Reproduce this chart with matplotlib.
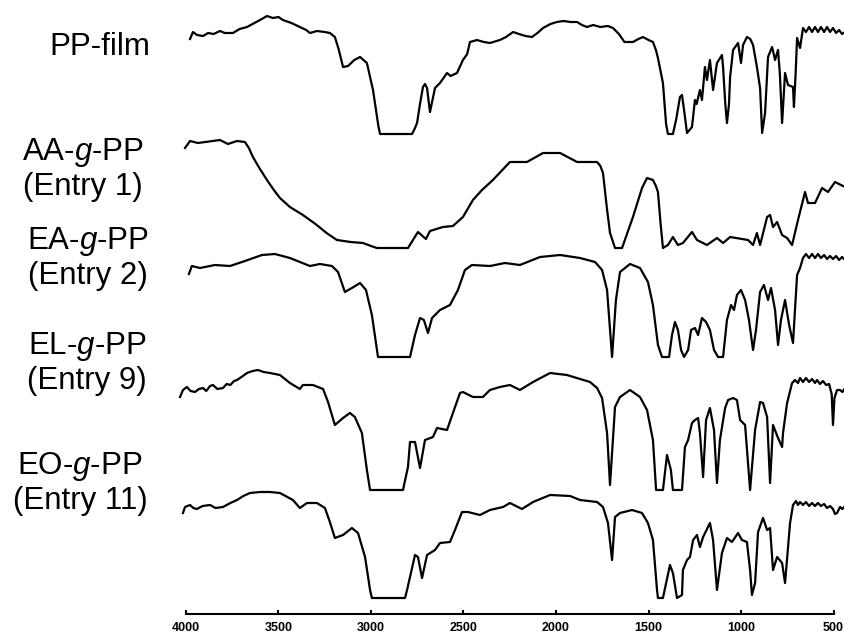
import matplotlib.pyplot as plt
import numpy as np

plt.rcParams['font.family'] = 'Liberation Sans'
plt.rcParams['mathtext.fontset'] = 'custom'
plt.rcParams['mathtext.rm'] = 'Liberation Sans'
plt.rcParams['mathtext.it'] = 'Liberation Sans:italic'

# FT-IR spectra: (wavenumber / cm-1, relative transmittance / a.u.)
pp_film = [
    (3978, 95), (3962, 102), (3940, 99), (3908, 98), (3880, 101), (3850, 100), (3816, 103),
    (3790, 101), (3746, 101), (3710, 105), (3670, 107), (3620, 112), (3590, 115), (3562, 118),
    (3530, 116), (3500, 117), (3476, 114), (3430, 111), (3384, 107), (3350, 104), (3330, 101),
    (3292, 103), (3250, 102), (3222, 101), (3195, 97), (3175, 85), (3151, 67), (3124, 68),
    (3090, 74), (3059, 77), (3022, 71), (2989, 44), (2960, 8), (2951, 0), (2778, 0), (2762, 6),
    (2751, 11), (2735, 30), (2719, 47), (2708, 50), (2697, 46), (2681, 22), (2665, 36),
    (2654, 46), (2627, 51), (2589, 61), (2570, 58), (2535, 61), (2503, 74), (2480, 80),
    (2465, 92), (2427, 94), (2390, 92), (2357, 91), (2303, 94), (2270, 97), (2232, 102),
    (2200, 100), (2165, 98), (2130, 97), (2100, 101), (2070, 106), (2030, 110), (1995, 112),
    (1960, 113), (1920, 112), (1886, 112), (1860, 109), (1832, 107), (1800, 109), (1760, 107),
    (1720, 108), (1692, 106), (1660, 100), (1630, 92), (1616, 92), (1584, 92), (1555, 95),
    (1530, 97), (1500, 94), (1476, 92), (1460, 84), (1449, 76), (1422, 51), (1405, 10),
    (1395, 0), (1368, 0), (1350, 15), (1330, 37), (1319, 39), (1305, 20), (1292, 1), (1265, 7),
    (1249, 34), (1240, 30), (1222, 44), (1211, 34), (1195, 67), (1184, 54), (1168, 74),
    (1151, 44), (1130, 71), (1103, 79), (1097, 67), (1085, 30), (1076, 11), (1065, 30),
    (1059, 57), (1043, 84), (1016, 91), (1000, 71), (989, 89), (968, 97), (950, 95), (935, 89),
    (914, 67), (897, 46), (886, 1), (870, 21), (854, 77), (832, 87), (816, 74), (800, 84),
    (790, 60), (778, 11), (762, 61), (746, 49), (719, 47), (714, 27), (705, 60), (697, 96),
    (681, 86), (665, 106), (649, 102), (632, 107), (616, 102), (600, 107), (584, 102),
    (568, 107), (551, 102), (535, 107), (519, 102), (503, 106), (486, 101), (470, 104),
    (454, 100), (438, 102),
]

aa_pp = [
    (4005, 100), (3978, 107), (3935, 105), (3816, 108), (3773, 104), (3724, 107), (3681, 106),
    (3660, 100), (3638, 91), (3600, 79), (3562, 68), (3525, 58), (3492, 50), (3438, 41),
    (3368, 33), (3300, 24), (3240, 15), (3184, 8), (3110, 6), (3043, 5), (3000, 2), (2968, 0),
    (2800, 0), (2746, 16), (2703, 9), (2681, 17), (2611, 21), (2557, 22), (2503, 31),
    (2449, 48), (2400, 58), (2341, 68), (2290, 78), (2249, 86), (2157, 86), (2070, 95),
    (1978, 95), (1886, 86), (1778, 86), (1760, 82), (1746, 75), (1725, 40), (1708, 15),
    (1681, 0), (1643, 0), (1584, 31), (1535, 60), (1508, 70), (1476, 68), (1460, 62),
    (1449, 56), (1435, 25), (1422, 0), (1395, 3), (1368, 11), (1341, 3), (1314, 5), (1265, 16),
    (1238, 8), (1184, 3), (1130, 10), (1097, 5), (1059, 11), (962, 8), (935, 3), (914, 15),
    (897, 3), (859, 31), (843, 33), (827, 21), (805, 26), (778, 13), (751, 10), (724, 3),
    (692, 28), (654, 56), (638, 45), (600, 45), (562, 60), (530, 56), (492, 66), (438, 61),
]

ea_pp = [
    (3984, 83), (3968, 91), (3924, 89), (3843, 92), (3762, 91), (3681, 96), (3589, 102),
    (3519, 103), (3438, 99), (3384, 95), (3330, 91), (3276, 93), (3211, 91), (3178, 85),
    (3141, 65), (3103, 69), (3059, 74), (3027, 67), (2995, 42), (2962, 0), (2789, 0),
    (2762, 22), (2735, 39), (2714, 37), (2692, 24), (2670, 39), (2627, 47), (2573, 52),
    (2530, 67), (2492, 87), (2454, 92), (2357, 91), (2276, 94), (2195, 92), (2086, 100),
    (1978, 102), (1870, 99), (1789, 95), (1751, 87), (1724, 67), (1697, 0), (1676, 57),
    (1654, 85), (1600, 93), (1546, 89), (1503, 75), (1476, 52), (1449, 12), (1427, 0),
    (1389, 0), (1373, 22), (1357, 35), (1341, 27), (1324, 7), (1308, 0), (1286, 7),
    (1270, 27), (1249, 29), (1232, 22), (1211, 39), (1189, 35), (1168, 27), (1146, 7),
    (1124, 0), (1097, 0), (1076, 37), (1054, 52), (1038, 47), (1022, 62), (1000, 67),
    (978, 57), (957, 37), (935, 7), (919, 27), (897, 65), (876, 72), (854, 57), (838, 69),
    (816, 47), (800, 12), (784, 37), (762, 57), (740, 32), (719, 14), (697, 82), (681, 89),
    (665, 99), (649, 103), (632, 99), (616, 103), (600, 99), (584, 103), (568, 99),
    (551, 102), (535, 98), (519, 101), (503, 98), (486, 101), (470, 97), (454, 100), (438, 97),
]

el_pp = [
    (4032, 93), (4016, 100), (3995, 103), (3975, 99), (3951, 98), (3930, 101), (3908, 102),
    (3890, 99), (3870, 104), (3854, 105), (3830, 101), (3800, 102), (3780, 106), (3760, 105),
    (3740, 109), (3724, 110), (3700, 113), (3670, 117), (3640, 119), (3611, 120), (3580, 118),
    (3546, 117), (3492, 115), (3438, 107), (3384, 101), (3368, 105), (3314, 105), (3259, 101),
    (3232, 88), (3195, 65), (3151, 72), (3114, 77), (3087, 73), (3049, 57), (3022, 20),
    (3005, 0), (2827, 0), (2800, 23), (2789, 48), (2762, 48), (2735, 22), (2708, 50),
    (2665, 53), (2643, 62), (2589, 60), (2557, 77), (2519, 97), (2503, 98), (2449, 93),
    (2395, 93), (2357, 100), (2303, 103), (2249, 105), (2195, 100), (2124, 108), (2032, 117),
    (1941, 115), (1816, 108), (1778, 102), (1751, 92), (1724, 57), (1708, 5), (1681, 83),
    (1654, 93), (1600, 100), (1546, 93), (1508, 80), (1476, 50), (1459, 0), (1422, 0),
    (1400, 35), (1379, 20), (1368, 0), (1319, 0), (1303, 43), (1286, 50), (1265, 67),
    (1249, 70), (1232, 72), (1222, 57), (1205, 13), (1189, 70), (1168, 82), (1146, 60),
    (1130, 7), (1114, 50), (1086, 82), (1070, 90), (1043, 92), (1022, 90), (1005, 70),
    (978, 65), (951, 0), (924, 60), (897, 88), (881, 87), (859, 73), (843, 7), (827, 65),
    (800, 52), (778, 43), (773, 57), (751, 87), (724, 107), (708, 110), (692, 107),
    (681, 112), (665, 108), (649, 112), (632, 108), (616, 111), (600, 107), (589, 110),
    (573, 106), (557, 109), (540, 105), (524, 106), (510, 96), (503, 65), (495, 92),
    (481, 100), (465, 100), (452, 98), (438, 102),
]

eo_pp = [
    (4016, 85), (4005, 91), (3978, 93), (3960, 90), (3941, 89), (3910, 92), (3870, 93),
    (3840, 90), (3800, 91), (3760, 95), (3724, 98), (3690, 102), (3654, 105), (3600, 106),
    (3546, 106), (3492, 105), (3422, 98), (3384, 90), (3346, 95), (3292, 95), (3249, 90),
    (3222, 76), (3195, 60), (3151, 63), (3103, 70), (3070, 65), (3032, 41), (3005, 8),
    (2995, 0), (2816, 0), (2805, 8), (2762, 43), (2746, 41), (2724, 20), (2697, 43),
    (2654, 48), (2627, 55), (2573, 56), (2546, 68), (2508, 86), (2476, 86), (2411, 83),
    (2357, 88), (2286, 91), (2249, 95), (2184, 89), (2124, 96), (2032, 103), (1924, 102),
    (1870, 98), (1778, 96), (1746, 91), (1719, 75), (1697, 38), (1681, 81), (1654, 85),
    (1589, 88), (1535, 85), (1503, 75), (1476, 58), (1454, 8), (1449, 0), (1422, 0),
    (1384, 33), (1368, 25), (1346, 0), (1319, 3), (1314, 28), (1292, 38), (1276, 41),
    (1259, 58), (1238, 63), (1222, 51), (1205, 61), (1168, 75), (1151, 58), (1130, 8),
    (1103, 45), (1076, 60), (1049, 56), (1016, 65), (995, 58), (968, 56), (951, 28), (941, 3),
    (924, 15), (908, 66), (881, 80), (859, 68), (843, 70), (827, 28), (805, 41), (778, 35),
    (762, 15), (735, 75), (719, 93), (703, 97), (692, 93), (681, 96), (665, 93), (649, 96),
    (632, 92), (616, 95), (600, 92), (584, 95), (568, 92), (551, 94), (535, 90), (519, 92),
    (503, 89), (492, 84), (481, 85), (465, 91), (452, 89), (438, 92),
]

sample_names = [
    "PP-film",
    "AA-$\\mathit{g}$-PP\n(Entry 1)",
    "EA-$\\mathit{g}$-PP\n(Entry 2)",
    "EL-$\\mathit{g}$-PP\n(Entry 9)",
    "EO-$\\mathit{g}$-PP\n(Entry 11)",
]
spectra = [pp_film, aa_pp, ea_pp, el_pp, eo_pp]
offsets = [480, 366, 257, 124, 16]
wn_ticks = [4000, 3500, 3000, 2500, 2000, 1500, 1000, 500]

W, H = 845, 637
fig = plt.figure(figsize=(W / 100, H / 100), dpi=100)
ax = fig.add_axes([0, 23 / H, 1, 614 / H])
ax.patch.set_visible(False)

for spec, off in zip(spectra, offsets):
    wn, t = np.array(spec, dtype=float).T
    ax.plot(wn, t + off, color='black', lw=1.6, solid_joinstyle='round')

ax.set_xlim(5005, 438)
ax.set_ylim(0, 614)
for side in ['top', 'left', 'right']:
    ax.spines[side].set_visible(False)
ax.spines['bottom'].set_bounds(500, 4000)
ax.spines['bottom'].set_linewidth(1.5)
ax.set_yticks([])
ax.set_xticks(wn_ticks)
ax.tick_params(axis='x', direction='in', length=3, width=1.5, pad=6, labelsize=9)
for lab in ax.get_xticklabels():
    lab.set_fontweight('bold')
    lab.set_family(['Liberation Sans Narrow', 'Liberation Sans'])

# sample labels, positions in figure pixels from the top-left corner
label_pos = [(100, 47), (83, 169), (88, 258), (87, 363), (80, 483)]
for name, (px, py) in zip(sample_names, label_pos):
    fig.text(px / W, 1 - py / H, name, ha='center', va='center',
             fontsize=22.5, linespacing=1.1)

fig.savefig('out.png', dpi=100)
